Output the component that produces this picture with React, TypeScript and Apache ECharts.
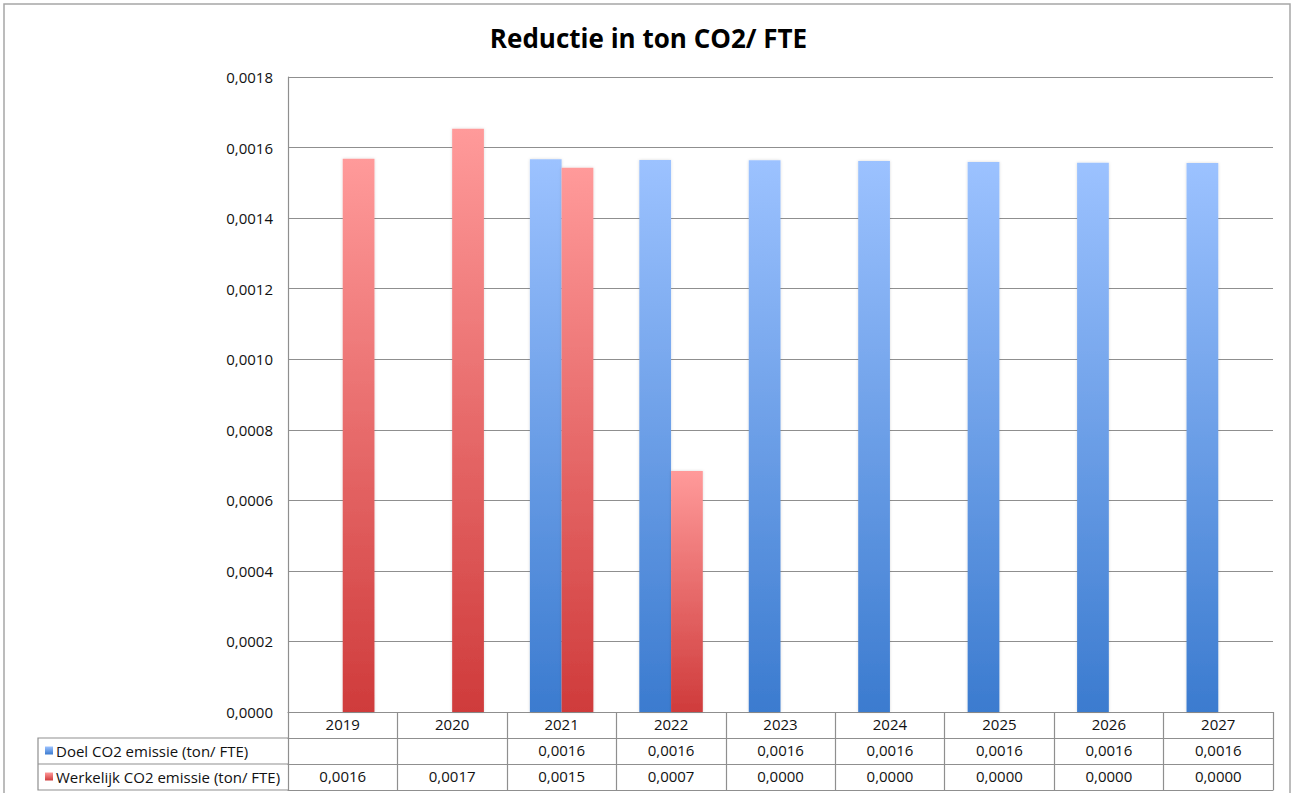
import React, { useEffect, useRef } from "react";
import * as echarts from "echarts";

const years = ["2019", "2020", "2021", "2022", "2023", "2024", "2025", "2026", "2027"];
const doelName = "Doel CO2 emissie (ton/ FTE)";
const werkelijkName = "Werkelijk CO2 emissie (ton/ FTE)";
const doelValues: (number | null)[] = [null, null, 0.001567, 0.001565, 0.001564, 0.001562, 0.001559, 0.001557, 0.001556];
const werkelijkValues: (number | null)[] = [0.001568, 0.001653, 0.001543, 0.000683, 0, 0, 0, 0, 0];
const yTicks = { min: 0, max: 0.0018, interval: 0.0002 };
const chartTitle = "Reductie in ton CO2/ FTE";

const fmt = (v: number | null | undefined) =>
  v === null || v === undefined ? "" : v.toFixed(4).replace(".", ",");

const FONT = "Open Sans";
const GRID_COLOR = "#8f8f8f";

const blueGrad = new echarts.graphic.LinearGradient(0, 0, 0, 1, [
  { offset: 0, color: "#9cc2ff" },
  { offset: 1, color: "#3b7bcf" },
]);
const redGrad = new echarts.graphic.LinearGradient(0, 0, 0, 1, [
  { offset: 0, color: "#ff9a9a" },
  { offset: 1, color: "#cf3b3b" },
]);

export default function App() {
  const ref = useRef<HTMLDivElement>(null);
  useEffect(() => {
    if (!ref.current) return;
    const chart = echarts.init(ref.current, null, { renderer: "svg" });
    const gridLeft = 288;
    const gridRight = 24;
    const gridTop = 77;
    const gridBottom = 81;
    const axisY = 793 - gridBottom;
    const rowH = 26;

    const tableAxis = (offset: number, values: (number | null)[] | null, showTicks: boolean, showLabels: boolean) => ({
      type: "category" as const,
      data: years,
      gridIndex: 0,
      position: "bottom" as const,
      offset,
      axisLine: { show: true, lineStyle: { color: GRID_COLOR, width: 1.2 } },
      axisTick: { show: showTicks, length: rowH, lineStyle: { color: GRID_COLOR, width: 1.2 } },
      axisLabel: {
        show: showLabels,
        interval: 0,
        margin: 4,
        color: "#111",
        fontFamily: FONT,
        fontSize: 15,
        formatter: (val: string, idx: number) => (values ? fmt(values[idx]) : val),
      },
      splitLine: { show: false },
    });

    chart.setOption({
      animation: false,
      backgroundColor: "#fff",
      title: {
        text: chartTitle,
        left: "center",
        top: 20,
        textStyle: { fontFamily: FONT, fontSize: 26, fontWeight: "bold", color: "#000" },
      },
      legend: [
        {
          data: [doelName],
          orient: "vertical",
          left: 40,
          top: axisY + rowH,
          itemWidth: 8,
          itemHeight: 8,
          icon: "rect",
          itemGap: 4,
          textStyle: { fontFamily: FONT, fontSize: 15, color: "#111", padding: [0, 0, 0, -2] },
          selectedMode: false,
        },
        {
          data: [werkelijkName],
          orient: "vertical",
          left: 40,
          top: axisY + rowH * 2,
          itemWidth: 8,
          itemHeight: 8,
          icon: "rect",
          itemGap: 4,
          textStyle: { fontFamily: FONT, fontSize: 15, color: "#111", padding: [0, 0, 0, -2] },
          selectedMode: false,
        },
      ],
      grid: { left: gridLeft, right: gridRight, top: gridTop, bottom: gridBottom, containLabel: false },
      xAxis: [
        tableAxis(0, null, true, true),
        tableAxis(rowH, doelValues, true, true),
        tableAxis(rowH * 2, werkelijkValues, true, true),
        tableAxis(rowH * 3, null, false, false),
      ],
      yAxis: {
        type: "value",
        min: yTicks.min,
        max: yTicks.max,
        interval: yTicks.interval,
        axisLine: { show: true, lineStyle: { color: GRID_COLOR, width: 1.2 } },
        axisTick: { show: false },
        axisLabel: {
          margin: 15,
          color: "#111",
          fontFamily: FONT,
          fontSize: 15,
          formatter: (v: number) => fmt(v),
        },
        splitLine: { show: true, lineStyle: { color: GRID_COLOR, width: 1.2 } },
      },
      series: [
        {
          name: doelName,
          type: "bar",
          xAxisIndex: 0,
          data: doelValues,
          barGap: "0%",
          barCategoryGap: "42%",
          itemStyle: { color: blueGrad, shadowBlur: 3, shadowColor: "rgba(0,0,0,0.15)" },
        },
        {
          name: werkelijkName,
          type: "bar",
          xAxisIndex: 0,
          data: werkelijkValues,
          barGap: "0%",
          barCategoryGap: "42%",
          itemStyle: { color: redGrad, shadowBlur: 3, shadowColor: "rgba(0,0,0,0.15)" },
        },
      ],
      graphic: [
        {
          type: "rect",
          shape: { x: 4, y: 4, width: 1286, height: 820 },
          style: { fill: "none", stroke: "#a6a6a6", lineWidth: 1.5 },
          silent: true,
        },
        {
          type: "polyline",
          shape: {
            points: [
              [gridLeft, axisY + rowH],
              [38, axisY + rowH],
              [38, axisY + rowH * 3],
              [gridLeft, axisY + rowH * 3],
            ],
          },
          style: { fill: "none", stroke: GRID_COLOR, lineWidth: 1.2 },
          silent: true,
        },
        {
          type: "line",
          shape: { x1: 38, y1: axisY + rowH * 2, x2: gridLeft, y2: axisY + rowH * 2 },
          style: { stroke: GRID_COLOR, lineWidth: 1.2 },
          silent: true,
        },
      ],
    });
    return () => chart.dispose();
  }, []);
  return (
    <div
      ref={ref}
      style={{ position: "fixed", left: 0, top: 0, width: 1297, height: 793, background: "#fff" }}
    />
  );
}
